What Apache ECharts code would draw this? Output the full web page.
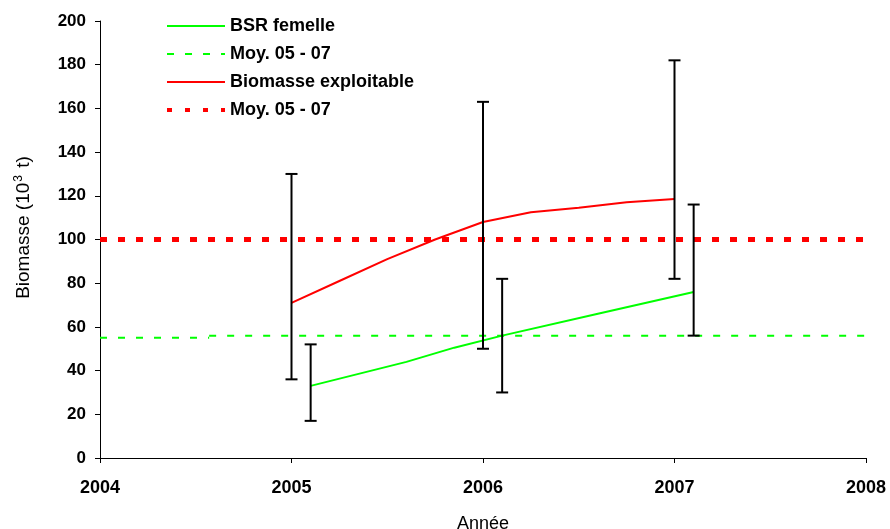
<!DOCTYPE html>
<html>
<head>
<meta charset="utf-8">
<script src="https://cdn.jsdelivr.net/npm/echarts@6/dist/echarts.min.js"></script>
<style>html,body{margin:0;padding:0;background:#fff}#c{width:890px;height:529px}</style>
</head>
<body>
<div id="c"></div>
<script>
// Data
const bsrX = [2005.1, 2005.35, 2005.6, 2005.85, 2006.1, 2006.6, 2007.1];
const bsrY = [33, 38.5, 44, 50.5, 56, 66, 76];
const bioX = [2005, 2005.25, 2005.5, 2005.75, 2006, 2006.25, 2006.5, 2006.75, 2007];
const bioY = [71, 81, 91, 100, 108, 112.5, 114.5, 117, 118.5];
const bsrMean = [[2004, 55], [2004.57, 55], [2004.57, '-'], [2004.57, 56], [2008, 56]];
const bioMean = [[2004, 100], [2008, 100]];
const bioErrX = [2005, 2006, 2007];
const bioErrLow = [36, 50, 82];
const bioErrHigh = [130, 163, 182];
const bsrErrX = [2005.1, 2006.1, 2007.1];
const bsrErrLow = [17, 30, 56];
const bsrErrHigh = [52, 82, 116];
const xTicks = [2004, 2005, 2006, 2007, 2008];

const errData = bioErrX.map((x, i) => [x, bioErrLow[i], bioErrHigh[i]])
  .concat(bsrErrX.map((x, i) => [x, bsrErrLow[i], bsrErrHigh[i]]));

function renderErr(params, api) {
  const x = api.value(0), lo = api.value(1), hi = api.value(2);
  const a = api.coord([x, lo]), b = api.coord([x, hi]);
  const w = 6;
  const st = {stroke: '#000', lineWidth: 2};
  return {type: 'group', children: [
    {type: 'line', shape: {x1: a[0], y1: a[1], x2: b[0], y2: b[1]}, style: st},
    {type: 'line', shape: {x1: a[0] - w, y1: a[1], x2: a[0] + w, y2: a[1]}, style: st},
    {type: 'line', shape: {x1: b[0] - w, y1: b[1], x2: b[0] + w, y2: b[1]}, style: st}
  ]};
}

const font = '"Liberation Sans", Arial, sans-serif';
const chart = echarts.init(document.getElementById('c'));
chart.setOption({
  animation: false,
  grid: {left: 100, right: 24, top: 21, bottom: 71, containLabel: false, outerBoundsMode: 'none'},
  legend: {
    orient: 'vertical', left: 160, top: 12, itemWidth: 58, itemHeight: 14, itemGap: 10,
    itemStyle: {opacity: 0},
    textStyle: {fontFamily: font, fontWeight: 'bold', fontSize: 18, color: '#000'},
    data: ['BSR femelle', 'Moy. 05 - 07', 'Biomasse exploitable',
      {name: 'Moy. 05 - 07 ', lineStyle: {width: 4, type: [5, 13]}}]
  },
  xAxis: {
    type: 'value', min: 2004, max: 2008, interval: 1,
    splitLine: {show: false},
    axisLine: {lineStyle: {color: '#000', width: 1}},
    axisTick: {show: true, length: 5, lineStyle: {color: '#000'}},
    axisLabel: {fontFamily: font, fontWeight: 'bold', fontSize: 18, color: '#000', margin: 21,
      formatter: v => xTicks.indexOf(v) >= 0 ? String(v) : ''},
    name: 'Année', nameLocation: 'middle', nameGap: 57,
    nameTextStyle: {fontFamily: font, fontSize: 18, color: '#000'}
  },
  yAxis: {
    type: 'value', min: 0, max: 200, interval: 20,
    splitLine: {show: false},
    axisLine: {show: true, lineStyle: {color: '#000', width: 1}},
    axisTick: {show: true, length: 5, lineStyle: {color: '#000'}},
    axisLabel: {fontFamily: font, fontWeight: 'bold', fontSize: 17, color: '#000', margin: 14},
    name: '{a|Biomasse (10}{s|3}{a| t)}', nameLocation: 'middle', nameGap: 66,
    nameTextStyle: {fontFamily: font, fontSize: 19, color: '#000', padding: [0, 0, 0, 24],
      rich: {a: {fontFamily: font, fontSize: 19, color: '#000'},
             s: {fontFamily: font, fontSize: 12, color: '#000', verticalAlign: 'top', padding: [0, 2, 9, 1]}}}
  },
  series: [
    {name: 'BSR femelle', type: 'line', symbol: 'none', data: bsrX.map((x, i) => [x, bsrY[i]]),
      lineStyle: {color: '#00ff00', width: 2}, itemStyle: {color: '#00ff00'}, z: 3},
    {name: 'Moy. 05 - 07', type: 'line', symbol: 'none', data: bsrMean, connectNulls: false,
      lineStyle: {color: '#00ff00', width: 2, type: [7, 11]}, itemStyle: {color: '#00ff00'}, z: 2},
    {name: 'Biomasse exploitable', type: 'line', symbol: 'none', data: bioX.map((x, i) => [x, bioY[i]]),
      lineStyle: {color: '#ff0000', width: 2}, itemStyle: {color: '#ff0000'}, z: 3},
    {name: 'Moy. 05 - 07 ', type: 'line', symbol: 'none', data: bioMean,
      lineStyle: {color: '#ff0000', width: 5, type: [7, 11]}, itemStyle: {color: '#ff0000'}, z: 2},
    {name: 'err', type: 'custom', renderItem: renderErr, data: errData, z: 4}
  ]
});
</script>
</body>
</html>
